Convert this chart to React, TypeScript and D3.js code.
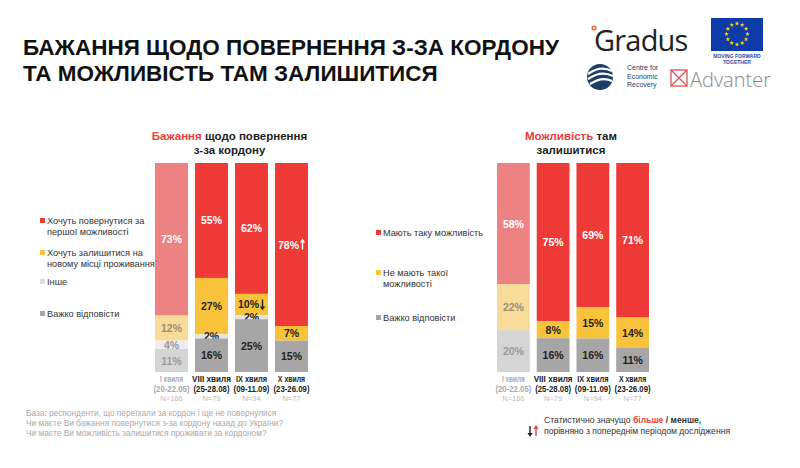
import React from "react";
import * as d3 from "d3";

// waves (x categories)
const waves = ["I хвиля", "VIII хвиля", "IX хвиля", "X хвиля"];
const waveDates = ["(20-22.05)", "(25-28.08)", "(09-11.09)", "(23-26.09)"];
const waveN = ["N=166", "N=79", "N=94", "N=77"];

// left panel: desire to return
const returnWant = [73, 55, 62, 78];
const returnStay = [12, 27, 10, 7];
const returnOther = [4, 2, 2, 0];
const returnHard = [11, 16, 25, 15];
const returnLegend = [
  ["Хочуть повернутися за", "першої можливості"],
  ["Хочуть залишитися на", "новому місці проживання"],
  ["Інше"],
  ["Важко відповісти"],
];

// right panel: possibility to stay
const stayCan = [58, 75, 69, 71];
const stayCannot = [22, 8, 15, 14];
const stayHard = [20, 16, 16, 11];
const stayLegend = [["Мають таку можливість"], ["Не мають такої", "можливості"], ["Важко відповісти"]];

// significance markers: [wave index, key, direction]
const returnMarks: [number, string, "up" | "down"][] = [
  [2, "stay", "down"],
  [3, "want", "up"],
];

const footLines = [
  "База: респонденти, що переїхали за кордон і ще не повернулися",
  "Чи маєте Ви бажання повернутися з-за кордону назад до України?",
  "Чи маєте Ви можливість залишитися проживати за кордоном?",
];

const FONT = "'Liberation Sans', Arial, sans-serif";

const full: Record<string, string> = {
  want: "#EE3B37",
  stay: "#F8C23B",
  other: "#E4E4E4",
  hard: "#A6A6A6",
};
const faded: Record<string, string> = {
  want: "#EC8282",
  stay: "#F6DC98",
  other: "#ECECEC",
  hard: "#D5D5D5",
};
const textFull: Record<string, string> = { want: "#fff", stay: "#222", other: "#222", hard: "#222" };
const textFaded: Record<string, string> = { want: "#fff", stay: "#9c8f78", other: "#999", hard: "#9a9a9a" };

type Row = { wave: string; [k: string]: number | string };

const Arrow = ({ x, y, dir, color }: { x: number; y: number; dir: "up" | "down"; color: string }) => {
  const s = dir === "up" ? -1 : 1;
  return (
    <g>
      <line x1={x} x2={x} y1={y - s * 5} y2={y + s * 3} stroke={color} strokeWidth={1.4} />
      <path d={`M${x - 2.6},${y + s * 2} L${x + 2.6},${y + s * 2} L${x},${y + s * 6} Z`} fill={color} />
    </g>
  );
};

interface PanelProps {
  rows: Row[];
  keys: string[];
  x0: number;
  x1: number;
  title: [string, string, string];
  marks?: [number, string, "up" | "down"][];
}

const Panel: React.FC<PanelProps> = ({ rows, keys, x0, x1, title, marks = [] }) => {
  const x = d3.scaleBand().domain(waves).range([x0, x1]).paddingInner(0.175).paddingOuter(0);
  const y = d3.scaleLinear().domain([0, 1]).range([163, 372]);
  const series = d3
    .stack<Row>()
    .keys(keys)
    .value((d, k) => d[k] as number)
    .offset(d3.stackOffsetExpand)(rows);
  const cx = (x0 + x1) / 2 - 2;
  return (
    <g>
      <text x={cx} y={140} textAnchor="middle" fontSize={11.5} fontWeight="bold" fill="#222">
        <tspan fill="#E8403C">{title[0]}</tspan>
        {title[1]}
      </text>
      <text x={cx} y={154} textAnchor="middle" fontSize={11.5} fontWeight="bold" fill="#222">
        {title[2]}
      </text>
      {series.map((s) =>
        s.map((d, i) => {
          const key = s.key;
          const v = rows[i][key] as number;
          if (!v) return null;
          const bx = x(waves[i])!;
          const bw = x.bandwidth();
          const yt = y(d[0]);
          const yb = y(d[1]);
          const mid = (yt + yb) / 2;
          const mark = marks.find((m) => m[0] === i && m[1] === key);
          const col = i === 0 ? textFaded[key] : textFull[key];
          return (
            <g key={key + i}>
              <rect x={bx} y={yt} width={bw} height={yb - yt} fill={i === 0 ? faded[key] : full[key]} />
              <text
                x={bx + bw / 2 - (mark ? 3 : 0)}
                y={mid + 4}
                textAnchor="middle"
                fontSize={10.5}
                fontWeight="bold"
                fill={col}
              >
                {v}%
              </text>
              {mark && <Arrow x={bx + bw / 2 + 11} y={mid} dir={mark[2]} color={col} />}
            </g>
          );
        })
      )}
      {waves.map((w, i) => {
        const c = x(w)! + x.bandwidth() / 2;
        const first = i === 0;
        return (
          <g key={w}>
            <text
              x={c}
              y={382}
              textAnchor="middle"
              fontSize={9}
              fontWeight="bold"
              fill={first ? "#aaa" : "#222"}
              textLength={first ? 23 : w.length * 3.9}
              lengthAdjust="spacingAndGlyphs"
            >
              {w}
            </text>
            <text
              x={c}
              y={392}
              textAnchor="middle"
              fontSize={9.5}
              fontWeight="bold"
              fill={first ? "#aaa" : "#222"}
              textLength={36}
              lengthAdjust="spacingAndGlyphs"
            >
              {waveDates[i]}
            </text>
            <text x={c} y={400.5} textAnchor="middle" fontSize={7.5} fill="#bbb">
              {waveN[i]}
            </text>
          </g>
        );
      })}
    </g>
  );
};

const Legend = ({
  items,
  keys,
  x,
  ys,
}: {
  items: string[][];
  keys: string[];
  x: number;
  ys: number[];
}) => (
  <g>
    {items.map((lines, i) => (
      <g key={i}>
        <rect x={x - 7} y={ys[i] - 6} width={5} height={5} fill={keys[i] === "other" ? "#ddd" : full[keys[i]]} />
        {lines.map((l, j) => (
          <text key={j} x={x} y={ys[i] + j * 10.5} fontSize={9.2} fill="#333">
            {l}
          </text>
        ))}
      </g>
    ))}
  </g>
);

const Logos = () => {
  const stars = d3.range(12).map((i) => {
    const a = (i / 12) * Math.PI * 2;
    return [737 + Math.cos(a) * 10.5, 34 + Math.sin(a) * 10.5];
  });
  const star = d3.symbol(d3.symbolStar, 7)()!;
  return (
    <g>
      <circle cx={594} cy={28} r={2.6} fill="#F26B3A" />
      <circle cx={594} cy={28} r={1} fill="#fff" />
      <text x={594} y={51} fontSize={29} fill="#222" fontFamily="'Open Sans', sans-serif" letterSpacing={-0.8}>
        Gradus
      </text>
      <rect x={711} y={18} width={52} height={33} fill="#0F3BA8" />
      {stars.map(([sx, sy], i) => (
        <path key={i} d={star} transform={`translate(${sx},${sy})`} fill="#FFD617" />
      ))}
      <text x={737} y={57.5} textAnchor="middle" fontSize={5} fontWeight="bold" fill="#2B4BA6">
        MOVING FORWARD
      </text>
      <text x={737} y={63.8} textAnchor="middle" fontSize={5} fontWeight="bold" fill="#2B4BA6">
        TOGETHER
      </text>
      <circle cx={600} cy={77} r={13} fill="#1C3E63" />
      <path d="M588,74 Q600,65 612,71" stroke="#fff" strokeWidth={2.2} fill="none" />
      <path d="M588,79 Q601,70 613,76" stroke="#fff" strokeWidth={2.2} fill="none" />
      <path d="M590,84 Q602,76 612,81" stroke="#fff" strokeWidth={2.2} fill="none" />
      <text x={627} y={70} fontSize={7} fill="#1C3E63">Centre for</text>
      <text x={627} y={78.5} fontSize={7} fill="#1C3E63">Economic</text>
      <text x={627} y={87} fontSize={7} fill="#1C3E63">Recovery</text>
      <rect x={671} y={70} width={16} height={16} fill="none" stroke="#E05252" strokeWidth={1.3} />
      <path d="M671,70 L687,86 M687,70 L671,86" stroke="#E05252" strokeWidth={1.2} />
      <text x={690} y={87} fontSize={20} fill="#8a8a8a" fontWeight={300} fontFamily="'Open Sans', sans-serif">
        Advanter
      </text>
    </g>
  );
};

export default function App() {
  const returnRows: Row[] = waves.map((w, i) => ({
    wave: w,
    want: returnWant[i],
    stay: returnStay[i],
    other: returnOther[i],
    hard: returnHard[i],
  }));
  const stayRows: Row[] = waves.map((w, i) => ({
    wave: w,
    want: stayCan[i],
    stay: stayCannot[i],
    hard: stayHard[i],
  }));
  return (
    <svg
      width={800}
      height={468}
      style={{ position: "absolute", left: 0, top: 0, background: "#fff" }}
      fontFamily={FONT}
    >
      <rect width={800} height={468} fill="#fff" />
      <text x={23} y={55} fontSize={22.5} fontWeight="bold" fill="#111">
        БАЖАННЯ ЩОДО ПОВЕРНЕННЯ З-ЗА КОРДОНУ
      </text>
      <text x={23} y={81} fontSize={22.5} fontWeight="bold" fill="#111">
        ТА МОЖЛИВІСТЬ ТАМ ЗАЛИШИТИСЯ
      </text>
      <Logos />

      <Panel
        rows={returnRows}
        keys={["want", "stay", "other", "hard"]}
        x0={155}
        x1={308}
        title={["Бажання", " щодо повернення", "з-за кордону"]}
        marks={returnMarks}
      />
      <Legend items={returnLegend} keys={["want", "stay", "other", "hard"]} x={47} ys={[224, 256, 285, 317]} />

      <Panel
        rows={stayRows}
        keys={["want", "stay", "hard"]}
        x0={497}
        x1={649}
        title={["Можливість", " там", "залишитися"]}
      />
      <Legend items={stayLegend} keys={["want", "stay", "hard"]} x={383} ys={[236, 276, 321]} />

      {footLines.map((l, i) => (
        <text key={i} x={26} y={416 + i * 10} fontSize={8.3} fill="#aaa">
          {l}
        </text>
      ))}

      <Arrow x={530} y={431} dir="down" color="#222" />
      <Arrow x={536} y={431} dir="up" color="#E8403C" />
      <text x={544} y={423} fontSize={8.6} fill="#333">
        Статистично значущо <tspan fill="#E8403C" fontWeight="bold">більше</tspan>
        <tspan fontWeight="bold"> / менше,</tspan>
      </text>
      <text x={544} y={434} fontSize={8.6} fill="#333">
        порівняно з попереднім періодом дослідження
      </text>
    </svg>
  );
}
